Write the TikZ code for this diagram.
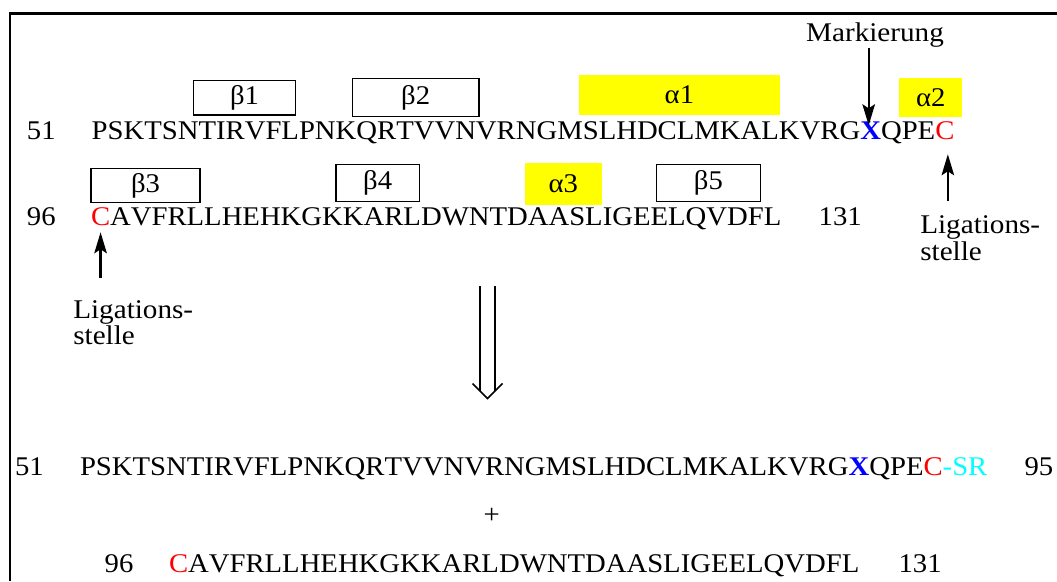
\documentclass[tikz,border=0pt]{standalone}
\usepackage{fontspec}
\setmainfont[Kerning=Off]{Liberation Serif}
\usetikzlibrary{arrows.meta}
\definecolor{seqblue}{RGB}{0,0,255}
\definecolor{seqred}{RGB}{255,0,0}
\definecolor{seqcyan}{RGB}{0,255,255}
\definecolor{helix}{RGB}{255,255,0}
\newcommand{\seqfont}{\fontsize{27}{30}\selectfont}
\newcommand{\lblfont}{\fontsize{27}{30}\selectfont}
\newcommand{\hs}[1]{\scalebox{1.063}[1]{#1}}
\newcommand{\hl}[1]{\scalebox{1.08}[1]{#1}}
\tikzset{
  txt/.style={inner sep=0pt, outer sep=0pt, anchor=base west, font=\seqfont},
  lbl/.style={inner sep=0pt, outer sep=0pt, anchor=base west, font=\lblfont},
  sheet/.style={draw=black, line width=1.4pt, inner sep=0pt, font=\seqfont},
  helixbox/.style={fill=helix, inner sep=0pt, font=\seqfont},
  arr/.style={line width=2.2pt, -{Stealth[length=21pt, width=12.5pt, inset=4pt]}},
  frame/.style={line width=2.8pt},
  dbl/.style={line width=1.6pt}
}
\begin{document}
\begin{tikzpicture}[x=1pt, y=-1pt]
\useasboundingbox (0,0) rectangle (1057,581);
% frame
\draw[frame] (10,581) -- (10,13.5) -- (1057,13.5);

% secondary structure boxes, row 1
\node[sheet, minimum width=101.6pt, minimum height=34.3pt] (b1) at (244.5,97.9) {\hs{β1}};
\node[sheet, minimum width=126.7pt, minimum height=38pt] (b2) at (415.7,97.7) {\hs{β2}};
\node[helixbox, minimum width=200.7pt, minimum height=40.5pt] (a1) at (679.4,94.8) {\hs{α1}};
\node[helixbox, minimum width=62.7pt, minimum height=39pt] (a2) at (930.7,97.8) {\hs{α2}};
% row 2
\node[sheet, minimum width=109pt, minimum height=34.4pt] (b3) at (145.5,185.5) {\hs{β3}};
\node[sheet, minimum width=83.3pt, minimum height=37.4pt] (b4) at (377.7,183) {\hs{β4}};
\node[helixbox, minimum width=76.7pt, minimum height=42pt] (a3) at (563.3,184) {\hs{α3}};
\node[sheet, minimum width=104pt, minimum height=37.4pt] (b5) at (708.4,183) {\hs{β5}};

% row 1 sequence
\node[txt] (n51) at (27,139) {\hs{51}};
\node[txt] (s1a) at (91.7,139) {\hs{PSKTSNTIRVFLPNKQRTVVNVRNGMSLHDCLMKALKVRG}};
\node[txt, text=seqblue] (x1) at (s1a.base east) {\hs{\textbf{X}}};
\node[txt] (s1b) at (x1.base east) {\hs{QPE}};
\node[txt, text=seqred] (c1) at (s1b.base east) {\hs{C}};

% row 2 sequence
\node[txt] (n96) at (27,225) {\hs{96}};
\node[txt, text=seqred] (c2) at (91,225) {\hs{C}};
\node[txt] (s2a) at (c2.base east) {\hs{AVFRLLHEHKGKKARLDWNTDAASLIGEELQVDFL}};
\node[txt] (n131) at (818.7,225) {\hs{131}};

% labels
\node[lbl, anchor=base] (mark) at (875,41.7) {\hl{Markierung}};
\node[lbl] (ligR) at (920.3,233.3) {\hl{Ligations-}};
\node[lbl] (ligRb) at (920.3,260) {\hl{stelle}};
\node[lbl] (ligL) at (73.3,318) {\hl{Ligations-}};
\node[lbl] (ligLb) at (73.3,344) {\hl{stelle}};

\draw[arr] ([xshift=-2pt]x1.north |- mark.south) -- ([xshift=-2pt,yshift=-4pt]x1.north);
\draw[arr, shorten <=14pt, shorten >=15pt] ([xshift=3pt]ligR.north -| c1) -- ([xshift=3pt]c1.south);
\draw[arr, shorten <=22pt, shorten >=7pt] (ligL.north -| c2) -- (c2.south);

% double arrow
\draw[dbl] (480,286) -- (480,391);
\draw[dbl] (495,286) -- (495,391);
\draw[dbl] (472.5,383.5) -- (487.5,398.5) -- (502.5,383.5);

% result row A
\node[txt] (m51) at (15,475) {\hs{51}};
\node[txt] (t1a) at (80,475) {\hs{PSKTSNTIRVFLPNKQRTVVNVRNGMSLHDCLMKALKVRG}};
\node[txt, text=seqblue] (x3) at (t1a.base east) {\hs{\textbf{X}}};
\node[txt] (t1b) at (x3.base east) {\hs{QPE}};
\node[txt, text=seqred] (c3) at (t1b.base east) {\hs{C}};
\node[txt, text=seqcyan] (sr) at (c3.base east) {\hs{-SR}};
\node[txt] (m95) at (1024.6,475) {\hs{95}};

\node[txt, anchor=base] (plus) at (491.6,523) {\hs{+}};

% result row B
\node[txt] (m96) at (104.7,572) {\hs{96}};
\node[txt, text=seqred] (c4) at (169,572) {\hs{C}};
\node[txt] (t2a) at (c4.base east) {\hs{AVFRLLHEHKGKKARLDWNTDAASLIGEELQVDFL}};
\node[txt] (m131) at (898.6,572) {\hs{131}};
\end{tikzpicture}
\end{document}
